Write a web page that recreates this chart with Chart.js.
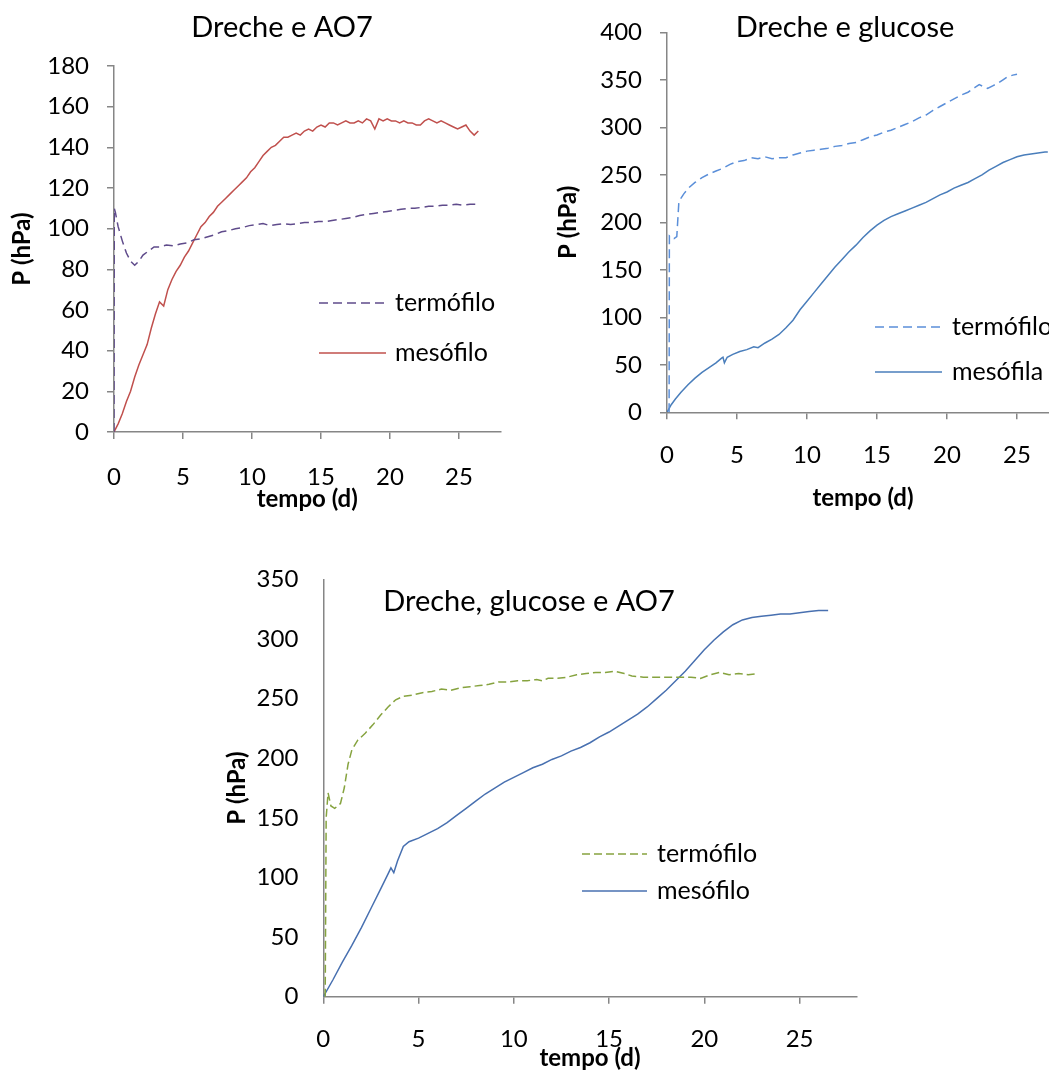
<!DOCTYPE html>
<html><head><meta charset="utf-8">
<script src="https://cdn.jsdelivr.net/npm/chart.js@4.4.1/dist/chart.umd.min.js"></script>
<style>
html,body{margin:0;padding:0;background:#fff;overflow:hidden;width:1049px;height:1073px;}
canvas{position:absolute;}
</style></head><body>
<canvas id="c1"></canvas><canvas id="c2"></canvas><canvas id="c3"></canvas>
<script>
// ---------- Chart 1: Dreche e AO7 ----------
const c1TermX = [0,0.02,0.1,0.3,0.6,0.9,1.2,1.5,1.8,2.1,2.5,2.9,3.3,3.8,4.3,4.8,5.3,5.8,6.3,6.8,7.3,7.8,8.3,8.8,9.3,9.8,10.3,10.8,11.3,11.8,12.3,12.8,13.3,13.8,14.3,14.8,15.3,15.8,16.3,16.8,17.3,17.8,18.3,18.8,19.3,19.8,20.3,20.8,21.3,21.8,22.3,22.8,23.3,23.8,24.3,24.8,25.3,25.8,26.3];
const c1TermY = [0,110,108,101,94,88,84,82,84,87,89,91,91,92,91.5,92.5,93,94.5,95,96,97,98.5,99,100,100.5,101.5,102,102.5,101.5,102,102.5,102,102.5,103,103,103.5,103.5,104,104.5,105,105.5,106.5,107,107.5,108,108.5,109,109.5,110,110,110.5,111,111,111.5,111.5,112,111.5,112,112];
const c1MesoX = [0,0.3,0.6,0.9,1.2,1.5,1.8,2.1,2.4,2.7,3.0,3.3,3.6,3.9,4.2,4.5,4.8,5.1,5.4,5.7,6.0,6.3,6.6,6.9,7.2,7.5,7.8,8.1,8.4,8.7,9.0,9.3,9.6,9.9,10.2,10.5,10.8,11.1,11.4,11.7,12.0,12.3,12.6,12.9,13.2,13.5,13.8,14.1,14.4,14.7,15.0,15.3,15.6,15.9,16.2,16.5,16.8,17.1,17.4,17.7,18.0,18.3,18.6,18.9,19.2,19.5,19.8,20.1,20.4,20.7,21.0,21.3,21.6,21.9,22.2,22.5,22.8,23.1,23.4,23.7,24.0,24.3,24.6,24.9,25.2,25.5,25.8,26.1,26.4];
const c1MesoY = [0,4,9,15,20,27,33,38,43,51,58,64,62,70,75,79,82,86,89,93,97,101,103,106,108,111,113,115,117,119,121,123,125,128,130,133,136,138,140,141,143,145,145,146,147,146,148,149,148,150,151,150,152,152,151,152,153,152,152,153,152,154,153,149,154,153,154,153,153,152,153,152,152,151,151,153,154,153,152,153,152,151,150,149,150,151,148,146,148];

// ---------- Chart 2: Dreche e glucose ----------
const c2TermX = [0.15,0.17,0.3,0.5,0.7,0.85,1.2,1.6,2.0,2.5,3.0,3.5,4.0,4.5,5.0,5.5,6.0,6.5,7.0,7.5,8.0,8.5,9.0,9.5,10.0,10.5,11.0,11.5,12.0,12.5,13.0,13.5,14.0,14.5,15.0,15.5,16.0,16.5,17.0,17.5,18.0,18.5,19.0,19.5,20.0,20.5,21.0,21.5,22.0,22.3,22.6,22.9,23.3,23.7,24.0,24.3,24.7,25.0];
const c2TermY = [0,186,185,183,185,222,230,237,242,247,251,254,257,261,264,265,268,267,269,267,268,268,271,273,275,276,277,278,280,281,283,284,287,290,292,295,297,300,303,306,310,313,318,322,326,330,334,337,342,345,343,341,344,347,350,353,355,356];
const c2MesoX = [0,0.3,0.6,1.0,1.5,2.0,2.5,3.0,3.5,3.9,4.0,4.1,4.3,4.7,5.2,5.7,6.2,6.5,7.0,7.5,8.0,8.5,9.0,9.5,10.0,10.5,11.0,11.5,12.0,12.5,13.0,13.5,14.0,14.5,15.0,15.5,16.0,16.5,17.0,17.5,18.0,18.5,19.0,19.5,20.0,20.5,21.0,21.5,22.0,22.5,23.0,23.5,24.0,24.5,25.0,25.5,26.0,26.5,27.0,27.2];
const c2MesoY = [0,8,14,21,29,36,42,47,52,57,58,52,58,61,64,66,69,68,73,77,82,89,97,108,117,126,135,144,153,161,169,176,184,191,197,202,206,209,212,215,218,221,225,229,232,236,239,242,246,250,255,259,263,266,269,271,272,273,274,274];

// ---------- Chart 3: Dreche, glucose e AO7 ----------
const c3TermX = [0.1,0.15,0.25,0.4,0.6,0.9,1.1,1.3,1.5,1.8,2.2,2.6,3.0,3.4,3.8,4.2,4.7,5.2,5.7,6.2,6.7,7.2,7.7,8.2,8.7,9.2,9.7,10.2,10.7,11.2,11.5,11.8,12.3,12.8,13.3,13.8,14.3,14.8,15.3,15.8,16.2,16.8,17.5,18.2,18.8,19.3,19.8,20.3,20.8,21.3,21.8,22.3,22.8];
const c3TermY = [0,150,171,160,158,162,175,195,207,215,221,228,236,243,249,252,253,255,256,258,257,259,260,261,262,264,264,265,265,266,265,267,267,268,270,271,272,272,273,271,269,268,268,268,268,268,267,270,272,270,271,270,271];
const c3MesoX = [0,0.5,1.0,1.5,2.0,2.5,3.0,3.4,3.55,3.7,3.9,4.2,4.5,5.0,5.5,6.0,6.5,7.0,7.5,8.0,8.5,9.0,9.5,10.0,10.5,11.0,11.5,12.0,12.5,13.0,13.5,14.0,14.5,15.0,15.5,16.0,16.5,17.0,17.5,18.0,18.5,19.0,19.5,20.0,20.5,21.0,21.5,22.0,22.5,23.0,23.5,24.0,24.5,25.0,25.5,26.0,26.5];
const c3MesoY = [0,14,29,43,58,74,90,103,108,104,114,126,130,133,137,141,146,152,158,164,170,175,180,184,188,192,195,199,202,206,209,213,218,222,227,232,237,243,250,257,265,273,282,291,299,306,312,316,318,319,320,321,321,322,323,324,324];

const xTicks = [0,5,10,15,20,25];
const yTicks1 = [0,20,40,60,80,100,120,140,160,180];
const yTicks2 = [0,50,100,150,200,250,300,350,400];
const yTicks3 = [0,50,100,150,200,250,300,350];

const FONT = 'Lato, "Open Sans", sans-serif';
const AXIS = '#868686';

const overlay = {
  id: 'overlay',
  afterDraw(chart, args, o) {
    const ctx = chart.ctx;
    ctx.save();
    ctx.fillStyle = '#000';
    ctx.font = o.titleFont;
    ctx.textAlign = 'center'; ctx.textBaseline = 'middle';
    ctx.fillText(o.title, o.titleX - o.left, o.titleY - o.top);
    ctx.font = o.legendFont;
    ctx.textAlign = 'left';
    chart.data.datasets.forEach((ds, i) => {
      const it = o.legend[i];
      ctx.strokeStyle = ds.borderColor; ctx.lineWidth = ds.borderWidth;
      ctx.setLineDash(ds.borderDash || []);
      ctx.beginPath();
      ctx.moveTo(it.x1 - o.left, it.y - o.top);
      ctx.lineTo(it.x2 - o.left, it.y - o.top);
      ctx.stroke();
      ctx.setLineDash([]);
      ctx.fillText(ds.label, it.tx - o.left, it.y - o.top);
    });
    ctx.restore();
  }
};

function pts(xs, ys) { return xs.map((x, i) => ({x: x, y: ys[i]})); }

function make(id, g) {
  const cv = document.getElementById(id);
  cv.width = g.w; cv.height = g.h;
  cv.style.left = g.left + 'px'; cv.style.top = g.top + 'px';
  cv.style.width = g.w + 'px'; cv.style.height = g.h + 'px';
  new Chart(cv, {
    type: 'line',
    data: { datasets: g.datasets.map(d => ({
      label: d.label, data: pts(d.x, d.y), borderColor: d.color, backgroundColor: d.color,
      borderWidth: 1.5, borderDash: d.dash || [], pointRadius: 0, tension: 0, fill: false
    })) },
    options: {
      responsive: false, animation: false, devicePixelRatio: 1,
      layout: { padding: { left: 0, top: g.padTop, right: g.padRight, bottom: 0 } },
      plugins: {
        legend: { display: false }, tooltip: { enabled: false },
        overlay: Object.assign({ left: g.left, top: g.top }, g.overlay)
      },
      scales: {
        x: {
          type: 'linear', min: 0, max: 28,
          afterBuildTicks: s => { s.ticks = xTicks.map(v => ({value: v})); },
          afterFit: s => { s.height = g.xH; },
          ticks: { padding: g.xPad, color: '#000', font: { family: FONT, size: 24 }, maxRotation: 0 },
          grid: { display: true, drawOnChartArea: false, drawTicks: true, tickLength: 7, color: AXIS, lineWidth: 1.5 },
          border: { display: true, color: AXIS, width: 1.5 },
          title: { display: true, text: 'tempo (d)', color: '#000', font: { family: FONT, size: 24, weight: 'bold' }, padding: { top: 0, bottom: g.xTitlePad } }
        },
        y: {
          type: 'linear', min: 0, max: g.yMax,
          afterBuildTicks: s => { s.ticks = g.yTicks.map(v => ({value: v})); },
          afterFit: s => { s.width = g.yW; },
          ticks: { padding: g.yPad, color: '#000', font: { family: FONT, size: 24 } },
          grid: { display: true, drawOnChartArea: false, drawTicks: g.yTickMarks, tickLength: 7, color: AXIS, lineWidth: 1.5 },
          border: { display: true, color: AXIS, width: 1.5 },
          title: { display: true, text: 'P (hPa)', color: '#000', font: { family: FONT, size: 24, weight: 'bold' }, padding: { top: g.yTitlePad, bottom: 0 } }
        }
      }
    },
    plugins: [overlay]
  });
}

make('c1', {
  left: 0, top: 0, w: 530, h: 520, padTop: 66, padRight: 29.6, xH: 88, yW: 114,
  xPad: 23.6, yPad: 18, xTitlePad: 6.6, yTitlePad: 8, yMax: 180, yTicks: yTicks1, yTickMarks: true,
  datasets: [
    { label: 'termófilo', x: c1TermX, y: c1TermY, color: '#5f4b8b', dash: [9, 5] },
    { label: 'mesófilo', x: c1MesoX, y: c1MesoY, color: '#c0504d' }
  ],
  overlay: { title: 'Dreche e AO7', titleX: 282, titleY: 28, titleFont: '29px ' + FONT, legendFont: '25px ' + FONT,
    legend: [ { x1: 319, x2: 386, y: 303, tx: 395 }, { x1: 319, x2: 386, y: 353, tx: 395 } ] }
});

make('c2', {
  left: 545, top: 0, w: 545, h: 520, padTop: 32.3, padRight: 31, xH: 107.7, yW: 122,
  xPad: 21.3, yPad: 18, xTitlePad: 7.6, yTitlePad: 8.6, yMax: 400, yTicks: yTicks2, yTickMarks: true,
  datasets: [
    { label: 'termófilo', x: c2TermX, y: c2TermY, color: '#5b8fd9', dash: [9, 5] },
    { label: 'mesófila', x: c2MesoX, y: c2MesoY, color: '#4a7ebb' }
  ],
  overlay: { title: 'Dreche e glucose', titleX: 845, titleY: 28, titleFont: '29px ' + FONT, legendFont: '25px ' + FONT,
    legend: [ { x1: 875, x2: 942, y: 327, tx: 952 }, { x1: 875, x2: 942, y: 372, tx: 952 } ] }
});

make('c3', {
  left: 210, top: 540, w: 680, h: 533, padTop: 35, padRight: 33.3, xH: 76.3, yW: 113.3,
  xPad: 20.9, yPad: 25, xTitlePad: 0.6, yTitlePad: 12.6, yMax: 350, yTicks: yTicks3, yTickMarks: false,
  datasets: [
    { label: 'termófilo', x: c3TermX, y: c3TermY, color: '#86a33f', dash: [8, 4] },
    { label: 'mesófilo', x: c3MesoX, y: c3MesoY, color: '#4870b0' }
  ],
  overlay: { title: 'Dreche, glucose e AO7', titleX: 529, titleY: 602, titleFont: '29px ' + FONT, legendFont: '25px ' + FONT,
    legend: [ { x1: 582, x2: 647, y: 854, tx: 657 }, { x1: 582, x2: 647, y: 891, tx: 657 } ] }
});
</script>
</body></html>
